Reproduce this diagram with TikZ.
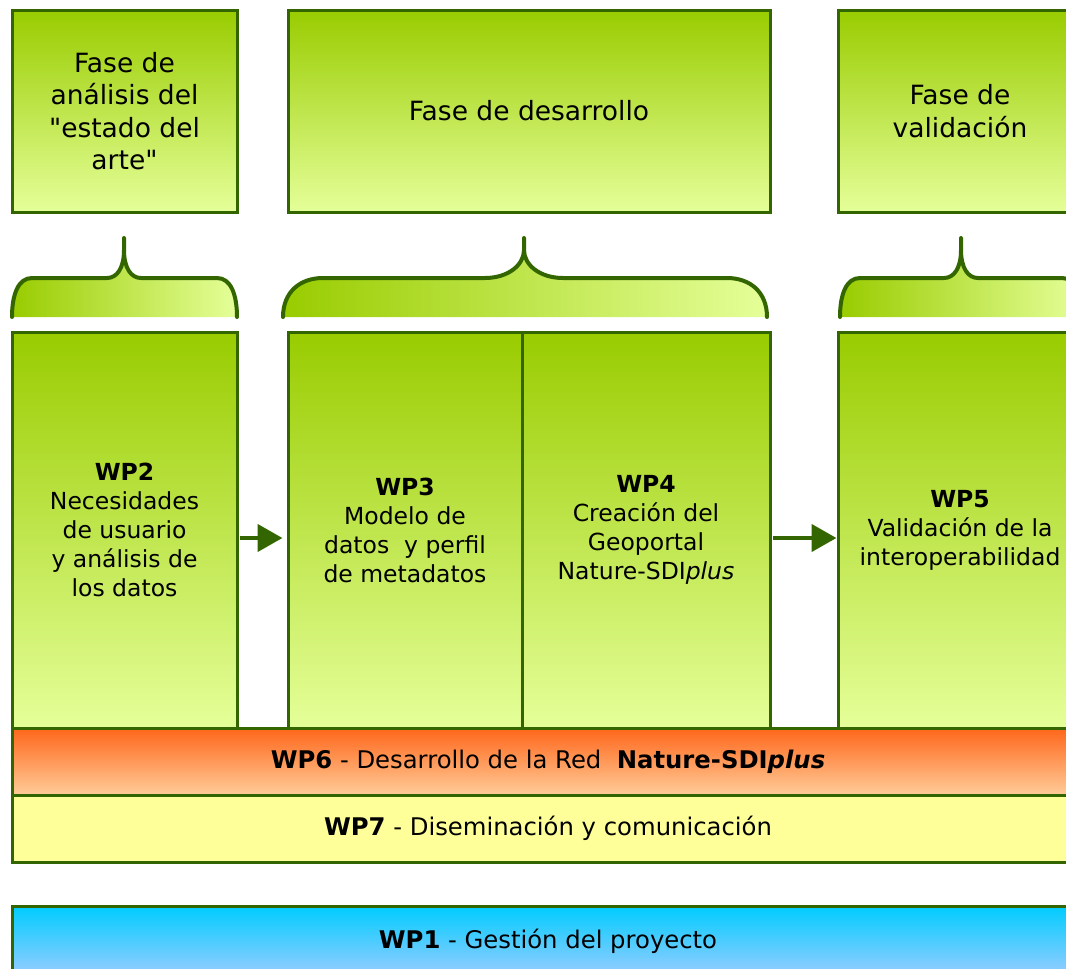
\documentclass[tikz,border=0pt]{standalone}
\usepackage{fontspec}
\setmainfont{DejaVu Sans}[Ligatures=TeXOff]
\usetikzlibrary{arrows.meta}
\definecolor{gtop}{HTML}{99CC00}
\definecolor{gbot}{HTML}{E5FF99}
\definecolor{gline}{HTML}{336600}
\definecolor{otop}{HTML}{FF661A}
\definecolor{obot}{HTML}{FFCC99}
\definecolor{ylw}{HTML}{FFFF99}
\definecolor{btop}{HTML}{00CCFF}
\definecolor{bbot}{HTML}{99CCFF}
\tikzset{
  phasebox/.style={draw=gline, line width=3pt, top color=gtop, bottom color=gbot,
    inner sep=0pt, align=center, font=\fontsize{26.5}{32.5}\selectfont},
  wpbox/.style={draw=gline, line width=3pt, top color=gtop, bottom color=gbot,
    inner sep=0pt, minimum height=396pt, align=center, font=\fontsize{23.5}{29}\selectfont},
  barbox/.style={draw=gline, line width=3pt, inner sep=0pt, minimum width=1072pt,
    minimum height=67pt, align=center, font=\fontsize{24.3}{28}\selectfont},
  bracefill/.style={left color=gtop, right color=gbot},
  braceline/.style={draw=gline, line width=4pt, line cap=round, line join=round},
  arr/.style={draw=gline, line width=4.5pt, -{Triangle[length=25pt,width=27pt]}}
}
\begin{document}
\begin{tikzpicture}[x=1pt,y=-1pt]
\useasboundingbox (0,0) rectangle (1066,969);
\clip (0,0) rectangle (1066,969);

% phase boxes
\node[phasebox, minimum width=225pt, minimum height=202pt] (f1) at (124.5,111) {Fase de\\análisis del\\"estado del\\arte"};
\node[phasebox, minimum width=482pt, minimum height=202pt] (f2) at (529,111) {Fase de desarrollo};
\node[phasebox, minimum width=244pt, minimum height=202pt] (f3) at (960,111) {Fase de\\validación};

% braces
\shade[bracefill] (12,317) .. controls (12,295) and (18,278) .. (32,278) -- (107,278) .. controls (117,278) and (124,268) .. (124,250) -- (124,238) -- (124,250) .. controls (124,268) and (131,278) .. (141,278) -- (217,278) .. controls (231,278) and (237,295) .. (237,317) -- cycle;
\draw[braceline] (12,317) .. controls (12,295) and (18,278) .. (32,278) -- (107,278) .. controls (117,278) and (124,268) .. (124,250) -- (124,238) -- (124,250) .. controls (124,268) and (131,278) .. (141,278) -- (217,278) .. controls (231,278) and (237,295) .. (237,317);

\shade[bracefill] (283,317) .. controls (283,292) and (300,278) .. (323,278) -- (485,278) .. controls (508,278) and (524,265) .. (524,250) -- (524,238) -- (524,250) .. controls (524,265) and (540,278) .. (563,278) -- (727,278) .. controls (750,278) and (767,292) .. (767,317) -- cycle;
\draw[braceline] (283,317) .. controls (283,292) and (300,278) .. (323,278) -- (485,278) .. controls (508,278) and (524,265) .. (524,250) -- (524,238) -- (524,250) .. controls (524,265) and (540,278) .. (563,278) -- (727,278) .. controls (750,278) and (767,292) .. (767,317);

\shade[bracefill] (840,317) .. controls (840,295) and (846,278) .. (860,278) -- (944,278) .. controls (954,278) and (961,268) .. (961,250) -- (961,238) -- (961,250) .. controls (961,268) and (968,278) .. (978,278) -- (1062,278) .. controls (1076,278) and (1082,295) .. (1082,317) -- cycle;
\draw[braceline] (840,317) .. controls (840,295) and (846,278) .. (860,278) -- (944,278) .. controls (954,278) and (961,268) .. (961,250) -- (961,238) -- (961,250) .. controls (961,268) and (968,278) .. (978,278) -- (1062,278) .. controls (1076,278) and (1082,295) .. (1082,317);

% work packages
\node[wpbox, minimum width=225pt] (wp2) at (124.5,530) {\textbf{WP2}\\Necesidades\\de usuario\\y análisis de\\los datos};
\node[wpbox, minimum width=234pt] (wp3) at (405,530) {\textbf{WP3}\\Modelo de\\datos\ \ y perfil\\de metadatos};
\node[wpbox, minimum width=248pt] (wp4) at (646,530) {\textbf{WP4}\\Creación del\\Geoportal\\Nature-SDI\textit{plus}};
\node[wpbox, minimum width=244pt] (wp5) at (960,530) {\textbf{WP5}\\Validación de la\\interoperabilidad};

% arrows
\draw[arr, shorten <=1.5pt, shorten >=4pt] ([yshift=-8pt]wp2.east) -- ([yshift=-8pt]wp3.west);
\draw[arr, shorten <=1.5pt, shorten >=0pt] ([yshift=-8pt]wp4.east) -- ([yshift=-8pt]wp5.west);

% bars
\node[barbox, top color=otop, bottom color=obot] (wp6) at (548,761.5) {\textbf{WP6} - Desarrollo de la Red\ \ \textbf{Nature-SDI\textit{plus}}};
\node[barbox, fill=ylw] (wp7) at (548,828.5) {\textbf{WP7} - Diseminación y comunicación};
\node[barbox, top color=btop, bottom color=bbot, minimum height=70pt] (wp1) at (548,941) {\textbf{WP1} - Gestión del proyecto};
\end{tikzpicture}
\end{document}
